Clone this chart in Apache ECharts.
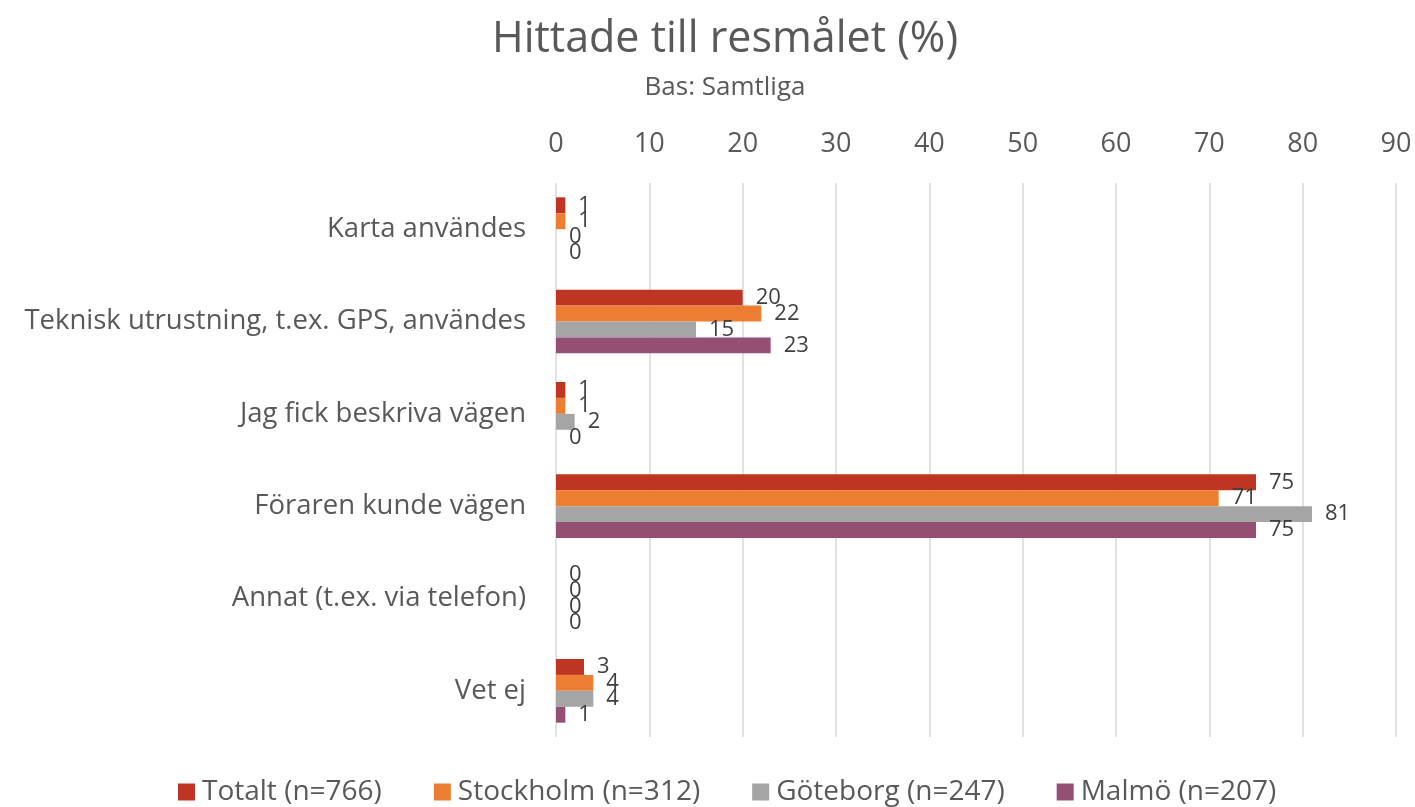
<!DOCTYPE html>
<html>
<head>
<meta charset="utf-8">
<script src="https://cdn.jsdelivr.net/npm/echarts@6/dist/echarts.min.js"></script>
<style>
  html, body { margin: 0; padding: 0; background: #fff; }
  #chart { width: 1415px; height: 807px; }
</style>
</head>
<body>
<div id="chart"></div>
<script>
// categories, top to bottom
const categories = [
  'Karta användes',
  'Teknisk utrustning, t.ex. GPS, användes',
  'Jag fick beskriva vägen',
  'Föraren kunde vägen',
  'Annat (t.ex. via telefon)',
  'Vet ej'
];
const seriesNames = ['Totalt (n=766)', 'Stockholm (n=312)', 'Göteborg (n=247)', 'Malmö (n=207)'];
const totalt = [1, 20, 1, 75, 0, 3];
const stockholm = [1, 22, 1, 71, 0, 4];
const goteborg = [0, 15, 2, 81, 0, 4];
const malmo = [0, 23, 0, 75, 0, 1];
const colors = ['#BE3523', '#ED7D31', '#A5A5A5', '#954F72'];

const font = 'Open Sans';
const textColor = '#595959';

const chart = echarts.init(document.getElementById('chart'));

const option = {
  color: colors,
  title: [
    {
      text: 'Hittade till resmålet (%)',
      left: 720, textAlign: 'center', top: 13,
      textStyle: { fontFamily: font, fontSize: 43, fontWeight: 'normal', color: textColor }
    },
    {
      text: 'Bas: Samtliga',
      left: 720, textAlign: 'center', top: 70,
      textStyle: { fontFamily: font, fontSize: 26, fontWeight: 'normal', color: textColor }
    }
  ],
  legend: {
    top: 773,
    left: 173,
    itemWidth: 17, itemHeight: 17,
    itemGap: 52,
    icon: 'rect',
    textStyle: { fontFamily: font, fontSize: 28, color: textColor, padding: [0, 0, 0, 2] }
  },
  grid: { left: 556, right: 19, top: 183, bottom: 70 },
  xAxis: {
    type: 'value',
    position: 'top',
    min: 0, max: 90, interval: 10,
    axisLine: { show: false },
    axisTick: { show: false },
    axisLabel: { fontFamily: font, fontSize: 27, color: textColor, margin: 25 },
    splitLine: { lineStyle: { color: '#D9D9D9', width: 1.5 } }
  },
  yAxis: {
    type: 'category',
    inverse: true,
    data: categories,
    axisLine: { show: false },
    axisTick: { show: false },
    axisLabel: { fontFamily: font, fontSize: 27.5, color: textColor, margin: 30 }
  },
  series: [totalt, stockholm, goteborg, malmo].map((vals, i) => ({
    name: seriesNames[i],
    type: 'bar',
    data: vals,
    barGap: '0%',
    barCategoryGap: '31%',
    label: {
      show: true,
      position: 'right',
      distance: 13,
      fontFamily: font, fontSize: 22, color: '#404040'
    }
  }))
};

chart.setOption(option);
</script>
</body>
</html>
